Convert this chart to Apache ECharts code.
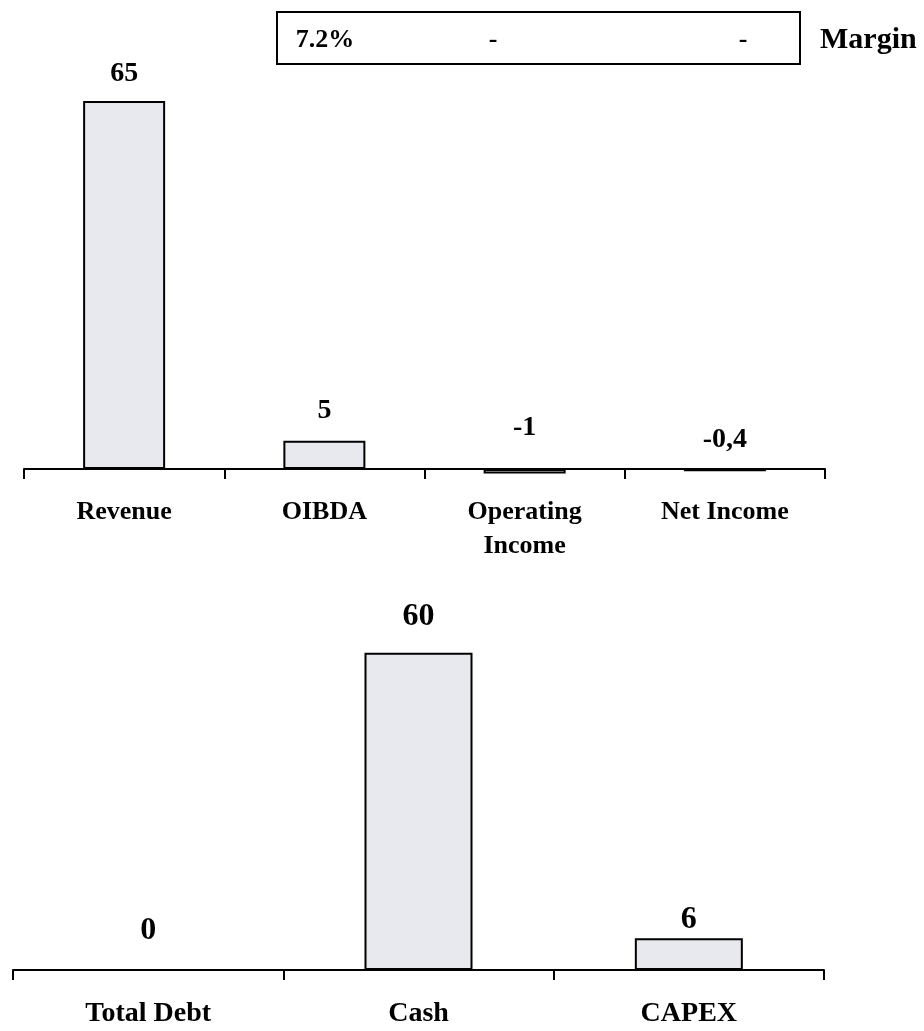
<!DOCTYPE html>
<html>
<head>
<meta charset="utf-8">
<script src="https://cdn.jsdelivr.net/npm/echarts@6/dist/echarts.min.js"></script>
<style>
  html, body { margin: 0; padding: 0; background: #fff; }
  #chart { width: 924px; height: 1031px; }
</style>
</head>
<body>
<div id="chart"></div>
<script>
// income statement items (top chart)
const incomeCategories = ['Revenue', 'OIBDA', 'Operating\nIncome', 'Net Income']
const incomeValues = [65, 5, -0.8, -0.4]
const incomeLabels = ['65', '5', '-1', '-0,4']

// balance / cash items (bottom chart)
const balanceCategories = ['Total Debt', 'Cash', 'CAPEX']
const balanceValues = [0, 60, 6]
const balanceLabels = ['0', '60', '6']

// margin row above the top chart
const marginValues = ['7.2%', '-', '-']
const marginTitle = 'Margin'

const font = 'Liberation Serif'
const barFill = '#E7E9EE'

const chart = echarts.init(document.getElementById('chart'))

const axisCommon = (fontSize, margin) => ({
  type: 'category',
  axisLine: { onZero: true, lineStyle: { color: '#000', width: 2 } },
  axisTick: { show: true, length: 10, lineStyle: { color: '#000', width: 2 } },
  axisLabel: {
    interval: 0,
    margin: margin,
    color: '#000',
    fontFamily: font,
    fontWeight: 'bold',
    fontSize: fontSize,
    lineHeight: 34
  },
  splitLine: { show: false }
})

// label gaps tuned per bar to sit where the original labels are
const incomeGaps = [13, 16, 27, 15]
const balanceGaps = [22, 20, 3]

const option = {
  animation: false,
  backgroundColor: '#fff',
  grid: [
    { left: 24, right: 99, top: 72.7, height: 424.6 },
    { left: 13, right: 100, top: 600, height: 378 }
  ],
  xAxis: [
    // labels sit off the grid bottom, not the zero line, so pull them up
    Object.assign(axisCommon(26, -2), { gridIndex: 0, data: incomeCategories }),
    Object.assign(axisCommon(28, 27), { gridIndex: 1, data: balanceCategories })
  ],
  yAxis: [
    { type: 'value', gridIndex: 0, min: -5, max: 70, show: false },
    { type: 'value', gridIndex: 1, min: 0, max: 70, show: false }
  ],
  series: [
    {
      type: 'bar',
      xAxisIndex: 0,
      yAxisIndex: 0,
      barWidth: 82,
      itemStyle: { color: barFill, borderColor: '#000', borderWidth: 2 },
      data: incomeValues.map((v, i) => ({
        value: v,
        label: {
          show: true,
          position: 'top',
          distance: incomeGaps[i],
          formatter: incomeLabels[i],
          color: '#000',
          fontFamily: font,
          fontWeight: 'bold',
          fontSize: 28
        }
      }))
    },
    {
      type: 'bar',
      xAxisIndex: 1,
      yAxisIndex: 1,
      barWidth: 108,
      itemStyle: { color: barFill, borderColor: '#000', borderWidth: 2 },
      data: balanceValues.map((v, i) => ({
        value: v,
        label: {
          show: true,
          position: 'top',
          distance: balanceGaps[i],
          formatter: balanceLabels[i],
          color: '#000',
          fontFamily: font,
          fontWeight: 'bold',
          fontSize: 32
        }
      }))
    }
  ],
  graphic: [
    {
      type: 'rect',
      shape: { x: 277, y: 12, width: 523, height: 52 },
      style: { fill: '#fff', stroke: '#000', lineWidth: 2 }
    },
    ...marginValues.map((t, i) => ({
      type: 'text',
      x: [325, 493, 743][i],
      y: 40,
      style: {
        text: t,
        fill: '#000',
        font: 'bold 26px "' + font + '"',
        textAlign: 'center',
        textVerticalAlign: 'middle'
      }
    })),
    {
      type: 'text',
      x: 820,
      y: 40,
      style: {
        text: marginTitle,
        fill: '#000',
        font: 'bold 30px "' + font + '"',
        textAlign: 'left',
        textVerticalAlign: 'middle'
      }
    }
  ]
}

chart.setOption(option)
</script>
</body>
</html>
